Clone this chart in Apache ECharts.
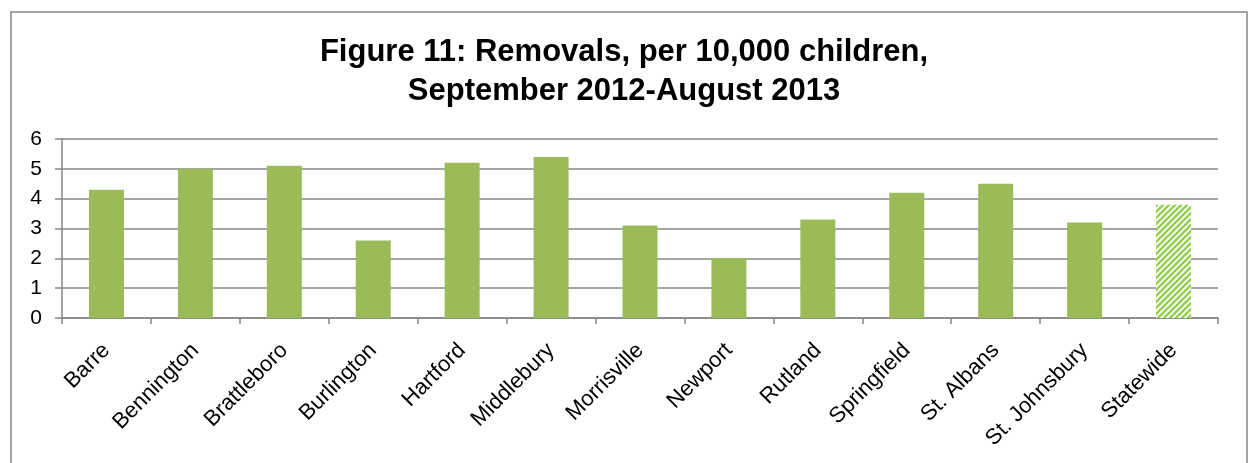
<!DOCTYPE html>
<html>
<head>
<meta charset="utf-8">
<script src="https://cdn.jsdelivr.net/npm/echarts@6/dist/echarts.min.js"></script>
<style>
  html, body { margin: 0; padding: 0; background: #fff; }
  #chart { width: 1248px; height: 463px; }
</style>
</head>
<body>
<div id="chart"></div>
<script>
// Removals per 10,000 children, Sept 2012 - Aug 2013, by district office
const districts = ['Barre', 'Bennington', 'Brattleboro', 'Burlington', 'Hartford', 'Middlebury',
  'Morrisville', 'Newport', 'Rutland', 'Springfield', 'St. Albans', 'St. Johnsbury', 'Statewide'];
const removalRates = [4.3, 5.0, 5.1, 2.6, 5.2, 5.4, 3.1, 2.0, 3.3, 4.2, 4.5, 3.2, 3.8];
const yTicks = [0, 1, 2, 3, 4, 5, 6];
const titleLines = ['Figure 11: Removals, per 10,000 children,', 'September 2012-August 2013'];

// Diagonal hatch fill used for the statewide bar
function makeHatch() {
  const c = document.createElement('canvas');
  const s = 6;
  c.width = s; c.height = s;
  const g = c.getContext('2d');
  g.fillStyle = '#ffffff';
  g.fillRect(0, 0, s, s);
  g.strokeStyle = '#92d050';
  g.lineWidth = 2.4;
  g.beginPath();
  for (let k = -1; k <= 1; k++) {
    g.moveTo(k * s - 1, s + 1);
    g.lineTo(k * s + s + 1, -1);
  }
  g.stroke();
  return c;
}
const hatch = makeHatch();

const seriesData = removalRates.map((v, i) => {
  if (districts[i] === 'Statewide') {
    return { value: v, itemStyle: { color: { image: hatch, repeat: 'repeat' } } };
  }
  return v;
});

const gray = '#878787';
const font = 'Liberation Sans, Arial, sans-serif';
const chart = echarts.init(document.getElementById('chart'), null, { renderer: 'canvas' });
chart.setOption({
  animation: false,
  backgroundColor: '#ffffff',
  textStyle: { fontFamily: font },
  title: {
    text: titleLines.join('\n'),
    left: 'center',
    top: 28,
    textStyle: {
      fontFamily: font,
      fontSize: 31,
      fontWeight: 'bold',
      color: '#000',
      lineHeight: 39
    }
  },
  graphic: [{
    type: 'rect',
    shape: { x: 11, y: 12, width: 1236, height: 470 },
    style: { fill: 'none', stroke: gray, lineWidth: 1.5 },
    silent: true
  }],
  grid: { left: 62, right: 30, top: 139, bottom: 145, containLabel: false },
  xAxis: {
    type: 'category',
    data: districts,
    boundaryGap: true,
    axisLine: { show: true, lineStyle: { color: gray, width: 1.5 } },
    axisTick: { show: true, length: 6, alignWithLabel: false, lineStyle: { color: gray, width: 1.5 } },
    axisLabel: {
      rotate: 45,
      interval: 0,
      margin: 29,
      fontSize: 22,
      color: '#000',
      fontFamily: font
    }
  },
  yAxis: {
    type: 'value',
    min: yTicks[0],
    max: yTicks[yTicks.length - 1],
    interval: 1,
    axisLine: { show: true, lineStyle: { color: gray, width: 1.5 } },
    axisTick: { show: true, length: 7, lineStyle: { color: gray, width: 1.5 } },
    splitLine: { show: true, lineStyle: { color: gray, width: 1.5 } },
    axisLabel: {
      margin: 20,
      fontSize: 21,
      color: '#000',
      fontFamily: font
    }
  },
  series: [{
    type: 'bar',
    data: seriesData,
    barWidth: 35,
    itemStyle: { color: '#9bbb59' },
    z: 3
  }]
});
</script>
</body>
</html>
